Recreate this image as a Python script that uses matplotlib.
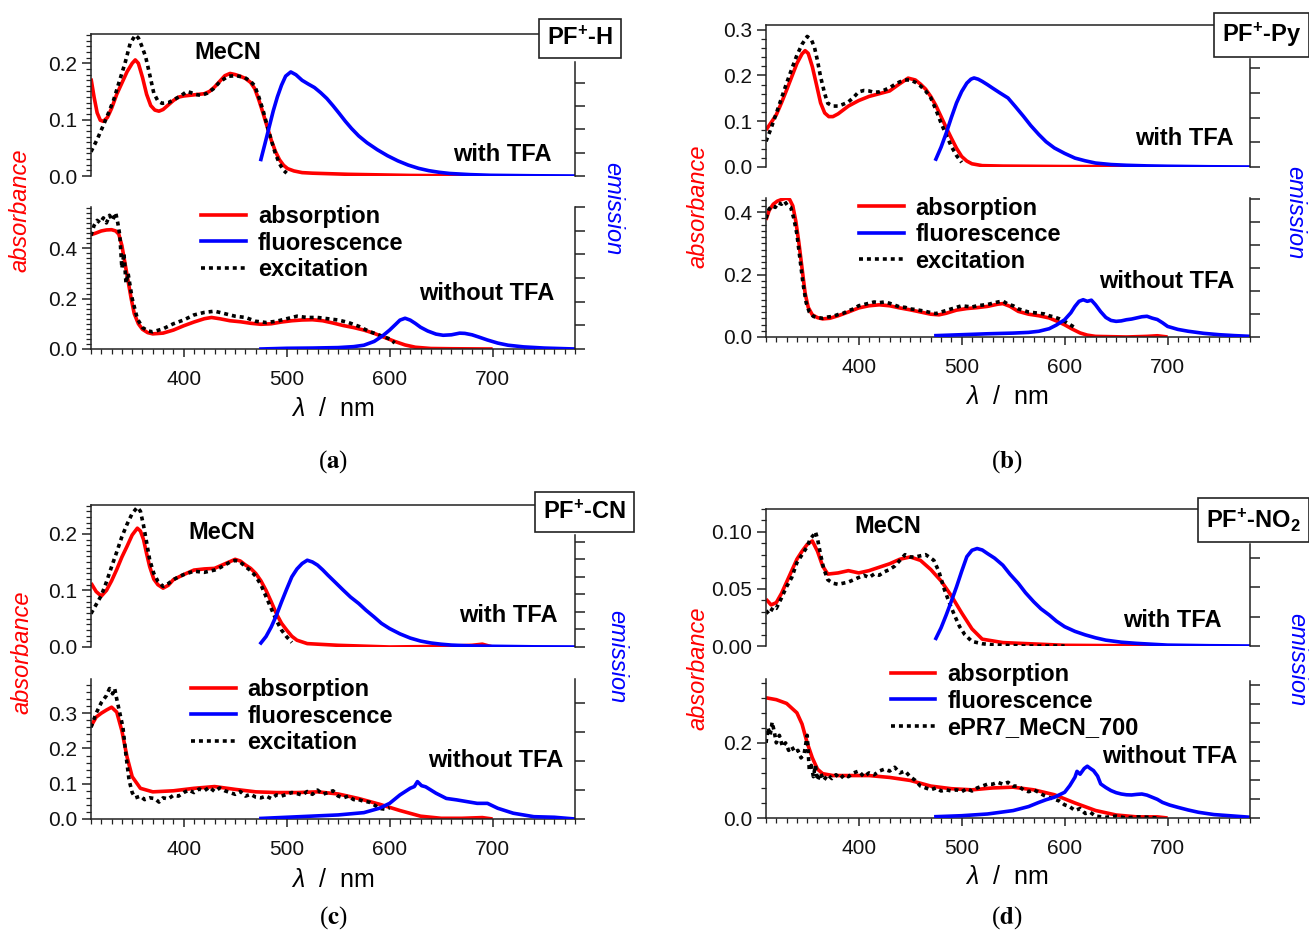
import numpy as np
import matplotlib.pyplot as plt
from matplotlib.ticker import MultipleLocator, FormatStrFormatter
from matplotlib.transforms import blended_transform_factory
from matplotlib.lines import Line2D

plt.rcParams['font.family'] = ['Liberation Sans', 'DejaVu Sans']
plt.rcParams['mathtext.fontset'] = 'custom'
plt.rcParams['mathtext.rm'] = 'Liberation Sans'
plt.rcParams['mathtext.it'] = 'Liberation Sans:italic'
plt.rcParams['mathtext.bf'] = 'Liberation Sans:bold'

RED = '#ff0000'
BLUE = '#0000ff'
AXC = '#222222'

# ---------------- panel (a) PF+-H ----------------
a_top_abs_wl = [310, 313, 316, 319, 322, 326, 330, 335, 340, 345, 350, 353, 356, 360, 364, 368, 372, 376, 380, 385, 390, 395,
                400, 410, 420, 425, 430, 435, 440, 445, 450, 455, 460, 465, 469, 473, 477, 481, 485, 489, 493, 497, 501, 507,
                515, 525, 560, 620, 700]
a_top_abs = [0.173, 0.14, 0.112, 0.099, 0.097, 0.104, 0.12, 0.145, 0.165, 0.185, 0.2, 0.206, 0.2, 0.175, 0.145, 0.125, 0.117,
             0.115, 0.118, 0.126, 0.134, 0.14, 0.142, 0.144, 0.146, 0.15, 0.158, 0.168, 0.178, 0.182, 0.18, 0.177, 0.173,
             0.166, 0.155, 0.135, 0.112, 0.088, 0.064, 0.044, 0.029, 0.019, 0.013, 0.009, 0.006, 0.005, 0.003, 0.001, 0.0]
a_top_exc_wl = [310, 316, 322, 327, 332, 337, 343, 348, 353, 356, 359, 363, 367, 371, 375, 379, 385, 391, 397, 403, 407, 411,
                417, 423, 429, 435, 443, 451, 459, 465, 469, 473, 477, 481, 485, 489, 493, 497, 500]
a_top_exc = [0.043, 0.065, 0.09, 0.112, 0.135, 0.165, 0.2, 0.235, 0.25, 0.245, 0.232, 0.212, 0.18, 0.147, 0.133, 0.129, 0.13,
             0.136, 0.142, 0.15, 0.148, 0.145, 0.143, 0.147, 0.155, 0.167, 0.177, 0.178, 0.175, 0.168, 0.16, 0.14, 0.117,
             0.09, 0.064, 0.04, 0.022, 0.01, 0.005]
a_top_fl_wl = [475, 479, 483, 487, 491, 495, 499, 504, 509, 515, 521, 527, 533, 539, 545, 551, 557, 563, 570, 578, 588, 598,
               608, 618, 628, 638, 648, 658, 678, 698, 740, 780]
a_top_fl = [0.71, 1.4, 2.1, 2.8, 3.4, 3.9, 4.29, 4.47, 4.35, 4.11, 3.95, 3.8, 3.58, 3.33, 3.02, 2.69, 2.35, 2.04, 1.72, 1.43,
            1.13, 0.87, 0.65, 0.47, 0.33, 0.23, 0.16, 0.11, 0.06, 0.03, 0.01, 0.0]

a_bot_abs_wl = [310, 315, 320, 325, 330, 334, 337, 340, 343, 346, 349, 352, 356, 360, 365, 370, 380, 390, 400, 410, 420, 427,
                435, 445, 455, 465, 475, 485, 495, 505, 515, 525, 535, 545, 555, 565, 575, 585, 595, 605, 615, 625, 640, 660,
                700]
a_bot_abs = [0.453, 0.46, 0.468, 0.472, 0.473, 0.468, 0.455, 0.41, 0.34, 0.27, 0.2, 0.14, 0.1, 0.078, 0.065, 0.06, 0.063,
             0.075, 0.092, 0.107, 0.12, 0.125, 0.12, 0.112, 0.108, 0.102, 0.098, 0.1, 0.107, 0.112, 0.115, 0.116, 0.112,
             0.103, 0.093, 0.085, 0.075, 0.062, 0.046, 0.03, 0.016, 0.007, 0.002, 0.001, 0.0]
a_bot_exc_wl = [310, 313, 316, 319, 322, 325, 328, 331, 334, 336, 338, 340, 342, 344, 346, 350, 355, 360, 365, 370, 380, 390,
                400, 410, 420, 430, 440, 450, 460, 470, 480, 490, 500, 510, 520, 530, 540, 550, 560, 570, 580, 590, 600, 605]
a_bot_exc = [0.45, 0.49, 0.51, 0.5, 0.52, 0.5, 0.53, 0.51, 0.54, 0.5, 0.45, 0.32, 0.38, 0.26, 0.3, 0.2, 0.12, 0.085, 0.072,
             0.068, 0.08, 0.1, 0.115, 0.135, 0.145, 0.15, 0.14, 0.13, 0.125, 0.11, 0.105, 0.11, 0.12, 0.13, 0.125, 0.125,
             0.12, 0.115, 0.105, 0.09, 0.07, 0.055, 0.04, 0.024]
a_bot_fl_wl = [475, 500, 525, 550, 565, 575, 585, 593, 600, 606, 610, 615, 620, 625, 630, 637, 645, 652, 660, 668, 673, 680,
               687, 695, 705, 715, 730, 750, 765, 780]
a_bot_fl = [0.0, 0.03, 0.04, 0.06, 0.1, 0.16, 0.32, 0.55, 0.8, 1.05, 1.22, 1.3, 1.22, 1.08, 0.92, 0.76, 0.63, 0.58, 0.6, 0.67,
            0.66, 0.6, 0.5, 0.38, 0.25, 0.16, 0.09, 0.04, 0.02, 0.0]

# ---------------- panel (b) PF+-Py ----------------
b_top_abs_wl = [310, 315, 320, 325, 330, 335, 340, 345, 348, 351, 355, 359, 363, 367, 371, 375, 380, 390, 400, 410, 420, 430,
                440, 448, 455, 460, 465, 470, 475, 480, 485, 490, 495, 500, 505, 510, 520, 540, 600, 650, 700]
b_top_abs = [0.081, 0.097, 0.114, 0.14, 0.168, 0.197, 0.226, 0.247, 0.254, 0.248, 0.219, 0.18, 0.14, 0.118, 0.11, 0.11,
             0.116, 0.133, 0.145, 0.154, 0.16, 0.166, 0.182, 0.194, 0.19, 0.181, 0.17, 0.154, 0.134, 0.11, 0.086, 0.063,
             0.041, 0.023, 0.013, 0.007, 0.003, 0.002, 0.001, 0.001, 0.0]
b_top_exc_wl = [310, 315, 320, 325, 330, 335, 340, 345, 350, 354, 357, 360, 363, 367, 370, 375, 380, 385, 390, 395, 400, 405,
                410, 415, 420, 425, 430, 435, 440, 445, 450, 455, 460, 465, 470, 475, 480, 485, 490, 495, 500]
b_top_exc = [0.056, 0.085, 0.117, 0.15, 0.183, 0.214, 0.244, 0.268, 0.285, 0.278, 0.262, 0.232, 0.197, 0.16, 0.139, 0.133,
             0.133, 0.137, 0.142, 0.152, 0.164, 0.167, 0.166, 0.163, 0.164, 0.168, 0.173, 0.18, 0.186, 0.19, 0.19, 0.185,
             0.177, 0.166, 0.151, 0.125, 0.096, 0.07, 0.045, 0.025, 0.01]
b_top_fl_wl = [475, 480, 485, 490, 495, 500, 505, 509, 512, 516, 520, 525, 530, 537, 545, 552, 560, 567, 575, 582, 590, 600,
               610, 620, 630, 645, 660, 680, 700, 740, 780]
b_top_fl = [0.32, 0.8, 1.37, 2.0, 2.59, 3.05, 3.39, 3.55, 3.6, 3.55, 3.46, 3.33, 3.19, 3.0, 2.79, 2.45, 2.05, 1.68, 1.31, 1.02,
            0.77, 0.55, 0.36, 0.25, 0.16, 0.1, 0.07, 0.045, 0.03, 0.01, 0.0]

b_bot_abs_wl = [310, 313, 317, 321, 325, 330, 333, 336, 339, 342, 345, 348, 351, 355, 360, 365, 372, 380, 390, 400, 410, 420,
                430, 440, 450, 460, 470, 478, 485, 495, 505, 515, 525, 535, 540, 547, 555, 565, 575, 585, 593, 600, 607, 615,
                622, 630, 660, 680, 690, 700]
b_bot_abs = [0.375, 0.405, 0.425, 0.435, 0.44, 0.445, 0.44, 0.42, 0.37, 0.3, 0.22, 0.14, 0.095, 0.071, 0.062, 0.058, 0.06,
             0.068, 0.08, 0.093, 0.1, 0.103, 0.1, 0.093, 0.087, 0.08, 0.073, 0.071, 0.076, 0.086, 0.091, 0.094, 0.098, 0.105,
             0.107, 0.098, 0.082, 0.073, 0.068, 0.061, 0.05, 0.039, 0.026, 0.013, 0.006, 0.002, 0.0, 0.002, 0.004, 0.0]
b_bot_exc_wl = [310, 313, 316, 319, 322, 325, 328, 331, 334, 337, 340, 343, 346, 349, 352, 356, 360, 365, 370, 375, 380, 385,
                390, 395, 400, 405, 410, 415, 420, 425, 430, 435, 440, 445, 450, 455, 460, 465, 470, 475, 480, 485, 490, 495,
                500, 505, 510, 515, 520, 525, 530, 535, 540, 545, 550, 555, 560, 565, 570, 575, 580, 585, 590, 595, 600, 605,
                610]
b_bot_exc = [0.38, 0.41, 0.42, 0.415, 0.43, 0.425, 0.435, 0.42, 0.415, 0.38, 0.33, 0.25, 0.17, 0.11, 0.08, 0.066, 0.062, 0.06,
             0.064, 0.066, 0.072, 0.076, 0.084, 0.09, 0.1, 0.104, 0.108, 0.112, 0.11, 0.112, 0.108, 0.102, 0.096, 0.095, 0.09,
             0.088, 0.085, 0.082, 0.078, 0.075, 0.08, 0.085, 0.09, 0.095, 0.1, 0.098, 0.096, 0.1, 0.102, 0.104, 0.108, 0.112,
             0.115, 0.105, 0.1, 0.09, 0.085, 0.08, 0.078, 0.076, 0.074, 0.068, 0.064, 0.058, 0.05, 0.04, 0.03]
b_bot_fl_wl = [475, 500, 525, 550, 565, 575, 585, 592, 600, 606, 610, 614, 618, 622, 626, 630, 635, 640, 645, 650, 655, 660,
               665, 670, 675, 680, 685, 690, 695, 700, 710, 720, 735, 750, 765, 780]
b_bot_fl = [0.06, 0.1, 0.14, 0.17, 0.2, 0.25, 0.36, 0.52, 0.75, 1.05, 1.33, 1.55, 1.62, 1.55, 1.6, 1.4, 1.1, 0.85, 0.72, 0.68,
            0.7, 0.75, 0.78, 0.83, 0.88, 0.9, 0.82, 0.76, 0.62, 0.46, 0.33, 0.25, 0.16, 0.1, 0.06, 0.03]

# ---------------- panel (c) PF+-CN ----------------
c_top_abs_wl = [310, 315, 320, 325, 330, 335, 340, 345, 350, 355, 358, 361, 364, 367, 371, 375, 380, 385, 390, 400, 410, 420,
                430, 440, 450, 455, 460, 465, 470, 475, 480, 485, 490, 495, 500, 505, 510, 520, 550, 600, 650, 680, 690, 700]
c_top_abs = [0.113, 0.098, 0.09, 0.1, 0.117, 0.137, 0.159, 0.178, 0.198, 0.21, 0.205, 0.19, 0.165, 0.142, 0.12, 0.11, 0.104,
             0.109, 0.119, 0.128, 0.136, 0.138, 0.139, 0.147, 0.155, 0.152, 0.145, 0.139, 0.13, 0.117, 0.1, 0.08, 0.059,
             0.042, 0.03, 0.019, 0.012, 0.006, 0.003, 0.0, 0.001, 0.003, 0.005, 0.0]
c_top_exc_wl = [310, 315, 320, 325, 330, 335, 340, 345, 350, 355, 358, 361, 364, 367, 371, 375, 380, 385, 390, 395, 400, 405,
                410, 415, 420, 425, 430, 435, 440, 445, 450, 455, 460, 465, 470, 475, 480, 485, 490, 495, 500, 505]
c_top_exc = [0.059, 0.075, 0.091, 0.115, 0.142, 0.168, 0.195, 0.217, 0.236, 0.247, 0.24, 0.215, 0.185, 0.154, 0.13, 0.116,
             0.107, 0.112, 0.119, 0.124, 0.128, 0.131, 0.134, 0.133, 0.132, 0.134, 0.136, 0.14, 0.145, 0.15, 0.153, 0.15,
             0.142, 0.135, 0.125, 0.11, 0.089, 0.068, 0.047, 0.03, 0.018, 0.008]
c_top_fl_wl = [475, 480, 485, 490, 495, 500, 505, 510, 515, 520, 525, 530, 535, 540, 547, 555, 562, 570, 577, 585, 592, 600,
               610, 620, 630, 640, 650, 660, 680, 700, 740, 780]
c_top_fl = [0.23, 0.6, 1.14, 1.8, 2.57, 3.3, 4.0, 4.45, 4.76, 4.95, 4.85, 4.67, 4.4, 4.1, 3.7, 3.24, 2.85, 2.48, 2.1, 1.71,
            1.35, 1.05, 0.75, 0.51, 0.34, 0.23, 0.16, 0.11, 0.06, 0.04, 0.01, 0.0]

c_bot_abs_wl = [310, 315, 320, 325, 330, 335, 340, 345, 350, 358, 370, 390, 410, 430, 450, 470, 490, 510, 530, 550, 570, 590,
                610, 630, 650, 670, 690, 700]
c_bot_abs = [0.263, 0.289, 0.3, 0.309, 0.317, 0.303, 0.25, 0.176, 0.12, 0.087, 0.077, 0.08, 0.087, 0.092, 0.084, 0.077,
             0.075, 0.075, 0.077, 0.071, 0.058, 0.042, 0.024, 0.008, 0.002, 0.002, 0.004, 0.0]
c_bot_exc_wl = [310, 315, 320, 325, 328, 331, 333, 335, 338, 341, 344, 347, 350, 353, 358, 362, 367, 372, 376, 380, 385, 390,
                395, 400, 405, 410, 415, 420, 425, 430, 435, 440, 445, 450, 455, 460, 465, 470, 475, 480, 485, 490, 495, 500,
                505, 510, 515, 520, 525, 530, 535, 540, 545, 550, 555, 560, 565, 570, 575, 580, 585, 590, 595, 600]
c_bot_exc = [0.26, 0.3, 0.33, 0.35, 0.37, 0.355, 0.37, 0.34, 0.3, 0.26, 0.18, 0.11, 0.075, 0.06, 0.065, 0.055, 0.06, 0.058,
             0.048, 0.06, 0.057, 0.067, 0.065, 0.075, 0.082, 0.075, 0.085, 0.08, 0.09, 0.078, 0.088, 0.08, 0.075, 0.07,
             0.078, 0.065, 0.07, 0.062, 0.06, 0.065, 0.058, 0.068, 0.065, 0.07, 0.075, 0.072, 0.068, 0.078, 0.07, 0.082,
             0.07, 0.075, 0.08, 0.065, 0.06, 0.065, 0.055, 0.055, 0.05, 0.048, 0.04, 0.03, 0.028, 0.032]
c_bot_fl_wl = [475, 500, 525, 550, 575, 590, 600, 610, 620, 624, 627, 631, 635, 645, 655, 665, 675, 685, 695, 705, 720, 740,
               760, 780]
c_bot_fl = [0.02, 0.06, 0.1, 0.14, 0.22, 0.37, 0.54, 0.83, 1.06, 1.12, 1.29, 1.15, 1.11, 0.89, 0.71, 0.66, 0.6, 0.54, 0.54,
            0.37, 0.2, 0.08, 0.06, 0.0]

# ---------------- panel (d) PF+-NO2 ----------------
d_top_abs_wl = [310, 315, 320, 325, 330, 335, 340, 345, 350, 355, 360, 365, 370, 380, 390, 400, 410, 420, 430, 440, 450, 460,
                470, 480, 490, 500, 510, 520, 540, 600, 700]
d_top_abs = [0.041, 0.036, 0.038, 0.046, 0.056, 0.066, 0.076, 0.083, 0.089, 0.092, 0.083, 0.07, 0.063, 0.064, 0.066, 0.064,
             0.066, 0.069, 0.072, 0.076, 0.078, 0.075, 0.067, 0.057, 0.044, 0.029, 0.015, 0.006, 0.003, 0.0006, 0.0]
d_top_exc_wl = [310, 313, 317, 320, 325, 330, 335, 340, 345, 350, 353, 356, 358, 360, 363, 366, 370, 375, 380, 385, 390, 395,
                400, 405, 410, 415, 420, 425, 430, 435, 440, 445, 450, 455, 460, 465, 470, 473, 478, 483, 488, 493, 498, 503,
                510, 520, 530, 560, 600]
d_top_exc = [0.031, 0.028, 0.034, 0.033, 0.042, 0.052, 0.06, 0.073, 0.08, 0.087, 0.094, 0.097, 0.1, 0.094, 0.08, 0.068, 0.058,
             0.055, 0.054, 0.055, 0.056, 0.058, 0.06, 0.062, 0.06, 0.063, 0.062, 0.065, 0.067, 0.07, 0.075, 0.08, 0.078,
             0.078, 0.079, 0.08, 0.077, 0.075, 0.065, 0.05, 0.038, 0.027, 0.017, 0.01, 0.004, 0.002, 0.001, 0.0, 0.0]
d_top_fl_wl = [475, 480, 485, 490, 495, 500, 505, 510, 515, 520, 525, 532, 540, 547, 555, 562, 570, 577, 585, 592, 600, 610,
               620, 630, 640, 655, 670, 700, 740, 780]
d_top_fl = [0.26, 0.62, 1.06, 1.53, 2.02, 2.55, 3.05, 3.27, 3.33, 3.28, 3.16, 3.0, 2.76, 2.45, 2.14, 1.82, 1.51, 1.27, 1.06,
            0.85, 0.66, 0.5, 0.38, 0.28, 0.2, 0.13, 0.09, 0.03, 0.01, 0.0]

d_bot_abs_wl = [310, 320, 330, 340, 345, 350, 355, 360, 365, 375, 390, 410, 430, 450, 470, 490, 510, 530, 550, 570, 590, 610,
                630, 650, 670, 690, 700]
d_bot_abs = [0.32, 0.315, 0.305, 0.28, 0.25, 0.2, 0.16, 0.13, 0.118, 0.113, 0.113, 0.113, 0.108, 0.1, 0.085, 0.078, 0.075,
             0.08, 0.082, 0.075, 0.062, 0.04, 0.02, 0.008, 0.003, 0.003, 0.0]
d_bot_exc_wl = [310, 312, 314, 316, 318, 320, 323, 326, 329, 332, 335, 338, 341, 344, 347, 350, 352, 354, 356, 358, 360, 363,
                366, 370, 374, 378, 382, 386, 390, 395, 400, 405, 410, 415, 420, 425, 430, 435, 440, 445, 450, 455, 460, 465,
                470, 475, 480, 485, 490, 495, 500, 505, 510, 515, 520, 525, 530, 535, 540, 545, 550, 555, 560, 565, 570, 575,
                580, 585, 590, 595, 600, 605, 610, 615, 620, 625, 630, 640, 650, 660, 670, 680, 690]
d_bot_exc = [0.2, 0.24, 0.22, 0.255, 0.23, 0.2, 0.22, 0.19, 0.2, 0.18, 0.19, 0.175, 0.18, 0.16, 0.17, 0.22, 0.13, 0.14, 0.11,
             0.14, 0.1, 0.12, 0.1, 0.115, 0.105, 0.115, 0.105, 0.115, 0.11, 0.12, 0.125, 0.11, 0.12, 0.115, 0.125, 0.13,
             0.125, 0.135, 0.12, 0.125, 0.11, 0.1, 0.085, 0.08, 0.075, 0.08, 0.072, 0.075, 0.072, 0.075, 0.07, 0.078, 0.072,
             0.08, 0.085, 0.09, 0.09, 0.095, 0.09, 0.095, 0.085, 0.085, 0.075, 0.07, 0.075, 0.068, 0.06, 0.055, 0.05, 0.045,
             0.035, 0.03, 0.02, 0.025, 0.012, 0.015, 0.005, 0.002, 0.005, 0.0, 0.003, 0.002, 0.0]
d_bot_fl_wl = [475, 500, 525, 550, 565, 575, 582, 590, 600, 605, 610, 612, 615, 619, 622, 625, 628, 632, 635, 640, 645, 650,
               655, 660, 665, 670, 675, 680, 685, 690, 695, 702, 710, 720, 730, 745, 760, 780]
d_bot_fl = [0.07, 0.12, 0.21, 0.39, 0.6, 0.82, 0.96, 1.09, 1.35, 1.7, 2.14, 2.45, 2.3, 2.6, 2.72, 2.6, 2.49, 2.2, 1.79, 1.6,
            1.44, 1.33, 1.26, 1.22, 1.21, 1.24, 1.26, 1.2, 1.09, 0.98, 0.82, 0.68, 0.56, 0.42, 0.3, 0.18, 0.12, 0.04]

W, H = 1309, 931
fig = plt.figure(figsize=(W / 100, H / 100), dpi=100)

XMIN, XMAX = 310, 780
LW = 2.6
DOT = (0, (1.1, 1.1))


def px_rect(left, right, top, bottom):
    return [left / W, 1 - bottom / H, (right - left) / W, (bottom - top) / H]


def make_pair(rect, ylim, major, minor, fmt, emis_lim, emis_n, emis_bound, is_top, box_left=None):
    ax = fig.add_axes(px_rect(*rect))
    ax.patch.set_visible(False)
    ax.set_xlim(XMIN, XMAX)
    ax.set_ylim(0, ylim)
    ax.yaxis.set_major_locator(MultipleLocator(major))
    ax.yaxis.set_minor_locator(MultipleLocator(minor))
    ax.yaxis.set_major_formatter(FormatStrFormatter(fmt))
    ax.tick_params(axis='y', which='major', direction='out', length=6.5, width=1.1, labelsize=15, pad=3.5,
                   color=AXC, labelcolor='#111111')
    ax.tick_params(axis='y', which='minor', direction='out', length=3.6, width=0.9, color=AXC)
    ax.spines['right'].set_visible(False)
    for s in ax.spines.values():
        s.set_color(AXC)
        s.set_linewidth(1.1)
    if is_top:
        ax.spines['bottom'].set_visible(False)
        ax.spines['top'].set_bounds(XMIN, box_left)
        ax.tick_params(axis='x', which='both', bottom=False, labelbottom=False)
    else:
        ax.spines['top'].set_visible(False)
        ax.xaxis.set_major_locator(MultipleLocator(100))
        ax.xaxis.set_minor_locator(MultipleLocator(10))
        ax.tick_params(axis='x', which='major', direction='out', length=6, width=1.1, labelsize=15, pad=9,
                       color=AXC, labelcolor='#111111')
        ax.tick_params(axis='x', which='minor', direction='out', length=3.6, width=0.9, color=AXC)

    # emission scale on the right, ticks only
    tw = ax.twinx()
    tw.set_ylim(0, emis_lim)
    tw.set_yticks(range(emis_n + 1))
    tw.tick_params(axis='y', direction='out', length=7.5, width=1.1, labelright=False, color=AXC)
    for name in ['left', 'top', 'bottom']:
        tw.spines[name].set_visible(False)
    tw.spines['right'].set_color(AXC)
    tw.spines['right'].set_linewidth(1.1)
    tw.spines['right'].set_bounds(0, emis_bound)
    return ax, tw


def draw(ax, tw, abs_wl, abs_v, exc_wl, exc_v, fl_wl, fl_v):
    ax.plot(abs_wl, abs_v, color=RED, lw=LW, solid_capstyle='butt')
    ax.plot(exc_wl, exc_v, color='black', lw=LW, linestyle=DOT)
    tw.plot(fl_wl, fl_v, color=BLUE, lw=LW)


def add_box(ax, text, x, yfrac):
    tr = blended_transform_factory(ax.transData, ax.transAxes)
    ax.text(x, yfrac, text, transform=tr, ha='center', va='center', fontsize=17, fontweight='bold', clip_on=False,
            zorder=10, bbox=dict(boxstyle='square,pad=0.34', fc='white', ec=AXC, lw=1.2))


def add_legend(tw, ax, x, y, third):
    handles = [Line2D([], [], color=RED, lw=LW), Line2D([], [], color=BLUE, lw=LW),
               Line2D([], [], color='black', lw=LW, linestyle=DOT)]
    labels = ['absorption', 'fluorescence', third]
    leg = tw.legend(handles, labels, loc='upper left', bbox_to_anchor=(x, y), bbox_transform=ax.transData,
                    frameon=False, borderpad=0, borderaxespad=0, handlelength=1.9, handletextpad=0.5,
                    labelspacing=0.145, prop={'weight': 'bold', 'size': 17})
    leg.set_zorder(20)


def side_labels(xabs, yabs, xem, yem, xlab, ylab, xtag, ytag, tag):
    fig.text(xabs / W, 1 - yabs / H, 'absorbance', color=RED, fontsize=17, style='italic', rotation=90,
             ha='center', va='center')
    fig.text(xem / W, 1 - yem / H, 'emission', color=BLUE, fontsize=17, style='italic', rotation=270,
             ha='center', va='center')
    fig.text(xlab / W, 1 - ylab / H, r'$\lambda$  /  nm', fontsize=18, ha='center', va='center')
    fig.text(xtag / W, 1 - ytag / H, '(' + r'$\mathbf{' + tag + '}$' + ')', fontsize=18, ha='center',
             va='center', family='Liberation Serif', math_fontfamily='stix')


def bold(ax, x, y, s, ha='left'):
    ax.text(x, y, s, fontsize=17, fontweight='bold', ha=ha, va='center', zorder=15)


# panel (a)
ax1, tw1 = make_pair((91, 575, 34, 176), 0.252, 0.1, 0.01, '%.1f', 6.1, 4, 4.9, True, 750)
ax2, tw2 = make_pair((91, 575, 207, 349), 0.563, 0.2, 0.02, '%.1f', 6.0, 6, 6.0, False)
draw(ax1, tw1, a_top_abs_wl, a_top_abs, a_top_exc_wl, a_top_exc, a_top_fl_wl, a_top_fl)
draw(ax2, tw2, a_bot_abs_wl, a_bot_abs, a_bot_exc_wl, a_bot_exc, a_bot_fl_wl, a_bot_fl)
add_box(ax1, r'PF$^{\mathbf{+}}$-H', 785, 0.97)
bold(ax1, 410, 0.219, 'MeCN')
bold(ax1, 757, 0.038, 'with TFA', 'right')
bold(ax2, 760, 0.222, 'without TFA', 'right')
add_legend(tw2, ax2, 417, 0.57, 'excitation')
side_labels(20, 210, 613, 209, 333, 409, 333, 462, 'a')

# panel (b)
ax3, tw3 = make_pair((766, 1250, 25, 167), 0.31, 0.1, 0.02, '%.1f', 5.74, 4, 4.35, True, 750)
ax4, tw4 = make_pair((766, 1250, 198, 337), 0.445, 0.2, 0.02, '%.1f', 6.04, 6, 6.04, False)
draw(ax3, tw3, b_top_abs_wl, b_top_abs, b_top_exc_wl, b_top_exc, b_top_fl_wl, b_top_fl)
draw(ax4, tw4, b_bot_abs_wl, b_bot_abs, b_bot_exc_wl, b_bot_exc, b_bot_fl_wl, b_bot_fl)
add_box(ax3, r'PF$^{\mathbf{+}}$-Py', 791, 0.93)
bold(ax3, 764, 0.063, 'with TFA', 'right')
bold(ax4, 765, 0.178, 'without TFA', 'right')
add_legend(tw4, ax4, 400, 0.449, 'excitation')
side_labels(698, 206, 1295, 213, 1007, 397, 1007, 462, 'b')

# panel (c)
ax5, tw5 = make_pair((91, 575, 505, 647), 0.251, 0.1, 0.01, '%.1f', 8.1, 6, 6.4, True, 745)
ax6, tw6 = make_pair((91, 575, 679, 819), 0.397, 0.1, 0.02, '%.1f', 4.83, 4, 4.83, False)
draw(ax5, tw5, c_top_abs_wl, c_top_abs, c_top_exc_wl, c_top_exc, c_top_fl_wl, c_top_fl)
draw(ax6, tw6, c_bot_abs_wl, c_bot_abs, c_bot_exc_wl, c_bot_exc, c_bot_fl_wl, c_bot_fl)
add_box(ax5, r'PF$^{\mathbf{+}}$-CN', 789, 0.95)
bold(ax5, 405, 0.202, 'MeCN')
bold(ax5, 763, 0.056, 'with TFA', 'right')
bold(ax6, 769, 0.167, 'without TFA', 'right')
add_legend(tw6, ax6, 407, 0.399, 'excitation')
side_labels(22, 652, 617, 657, 333, 880, 333, 918, 'c')

# panel (d)
ax7, tw7 = make_pair((766, 1250, 509, 646), 0.12, 0.05, 0.01, '%.2f', 4.68, 3, 3.5, True, 737)
ax8, tw8 = make_pair((766, 1250, 679, 818), 0.37, 0.2, 0.04, '%.1f', 7.3, 7, 7.2, False)
draw(ax7, tw7, d_top_abs_wl, d_top_abs, d_top_exc_wl, d_top_exc, d_top_fl_wl, d_top_fl)
draw(ax8, tw8, d_bot_abs_wl, d_bot_abs, d_bot_exc_wl, d_bot_exc, d_bot_fl_wl, d_bot_fl)
add_box(ax7, r'PF$^{\mathbf{+}}$-NO$_{\mathbf{2}}$', 783, 0.92)
bold(ax7, 396, 0.105, 'MeCN')
bold(ax7, 752, 0.022, 'with TFA', 'right')
bold(ax8, 768, 0.163, 'without TFA', 'right')
add_legend(tw8, ax8, 431, 0.412, 'ePR7_MeCN_700')
side_labels(698, 668, 1297, 660, 1007, 877, 1007, 918, 'd')

fig.savefig('out.png', dpi=100)
